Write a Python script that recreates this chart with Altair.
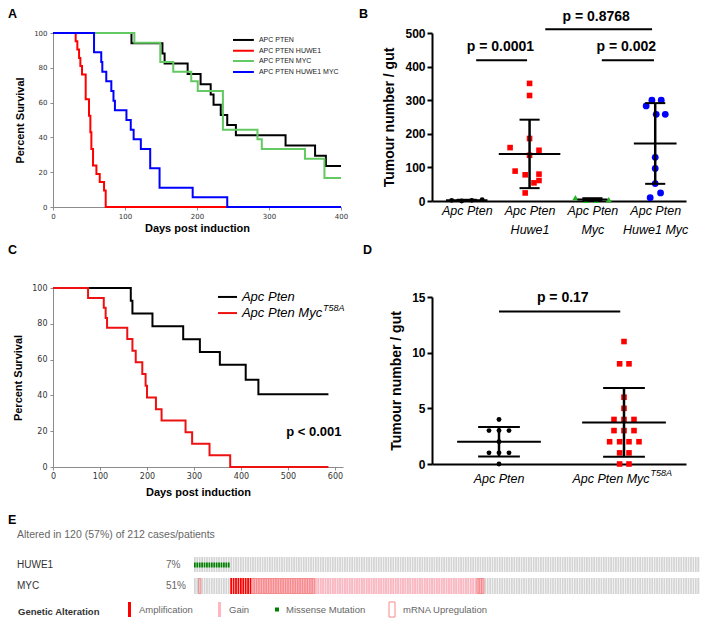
import altair as alt
import pandas as pd

SANS = "Liberation Sans"
SMALL = "DejaVu Sans"

# ====================== DATA ======================
# ---- Panel A: Kaplan-Meier survival (days, percent) ----
A_SERIES = ["APC PTEN", "APC PTEN HUWE1", "APC PTEN MYC", "APC PTEN HUWE1 MYC"]
A_COLORS = ["#000000", "#ff0000", "#63c963", "#0000ff"]
a_pten_day = [0, 109, 152, 155, 187, 205, 219, 223, 233, 242, 254, 323, 364, 379, 400]
a_pten_surv = [100, 94.1, 88.2, 82.4, 76.5, 70.6, 64.7, 58.8, 52.9, 47.1, 41.2, 35.3, 29.4, 23.5, 23.5]
a_huwe1_day = [0, 31.5, 33.8, 36.2, 38, 40.3, 45.4, 50, 51.9, 53.3, 55.6, 60.3, 64.9, 70.9, 73.2, 243]
a_huwe1_surv = [100, 95.2, 90.5, 85.7, 81.0, 76.2, 61.9, 52.4, 42.9, 33.3, 23.8, 19.0, 14.3, 9.5, 0, 0]
a_myc_day = [0, 113, 149, 167, 192, 201, 236, 284, 290, 350, 377, 400]
a_myc_surv = [100, 94.4, 83.3, 77.8, 72.2, 66.7, 44.4, 38.9, 33.3, 27.8, 16.7, 16.7]
a_hm_day = [0, 57, 67, 68.5, 74, 81, 84, 86, 102, 108, 112, 122, 135, 148, 194, 242, 400]
a_hm_surv = [100, 88.9, 83.3, 77.8, 72.2, 66.7, 61.1, 55.6, 50.0, 44.4, 38.9, 33.3, 22.2, 11.1, 5.6, 0, 0]

# ---- Panel B: tumour number per gut ----
B_LABELS = [["Apc Pten"], ["Apc Pten", "Huwe1"], ["Apc Pten", "Myc"], ["Apc Pten", "Huwe1 Myc"]]
B_COLORS = ["#000000", "#ff0000", "#22b822", "#0000ff"]
B_SHAPES = ["circle", "square", "triangle-up", "circle"]
b_values = [
    [2, 0, 2, 4],
    [350, 314, 186, 159, 151, 136, 89, 78, 80, 54, 61, 24],
    [10, 2, 2, 4],
    [300, 300, 283, 258, 258, 130, 97, 52, 24, 10],
]
b_jitter = [
    [-0.24, -0.08, 0.08, 0.245],
    [0, 0, 0, -0.31, 0.15, 0, -0.23, -0.07, 0.15, 0.07, 0.15, -0.07],
    [-0.27, -0.1, 0.06, 0.26],
    [-0.053, 0.096, -0.144, 0.016, 0.16, 0, 0, 0, 0.085, -0.08],
]
B_P_TEXT = ["p = 0.0001", "p = 0.002", "p = 0.8768"]

# ---- Panel C: Kaplan-Meier ----
C_SERIES = ["Apc Pten", "Apc Pten Myc"]
C_SUPER = "T58A"
C_COLORS = ["#000000", "#ee1111"]
c_pten_day = [0, 165.5, 169, 211.6, 277, 312.5, 355, 410, 437, 586]
c_pten_surv = [100, 92.9, 85.7, 78.6, 71.4, 64.3, 57.1, 48.8, 40.7, 40.7]
c_myc_day = [0, 74.6, 108, 112, 115, 158, 169, 176, 190, 197, 200, 219, 231, 282, 296, 333, 377, 586]
c_myc_surv = [100, 94.4, 88.9, 83.3, 77.8, 71.5, 65, 58.5, 52, 45.4, 38.8, 32.3, 26, 19.4, 13, 6.5, 0, 0]
C_P_TEXT = "p < 0.001"

# ---- Panel D: tumour number per gut ----
D_LABELS = ["Apc Pten", "Apc Pten Myc"]
D_COLORS = ["#000000", "#ff0000"]
D_SHAPES = ["circle", "square"]
d_values = [
    [4, 3, 3, 3, 2, 1, 1, 1, 0],
    [11, 9, 9, 6, 5, 4, 4, 4, 3, 3, 3, 2, 2, 2, 2, 1, 1, 0, 0],
]
d_jitter = [
    [0, -0.08, 0, 0.08, 0, -0.08, 0, 0.08, 0],
    [0, -0.035, 0.04, 0, 0, -0.08, 0, 0.08, -0.08, 0, 0.08, -0.115, -0.035, 0.04, 0.12,
     -0.035, 0.04, -0.035, 0.04],
]
D_P_TEXT = "p = 0.17"

# ---- Panel E: oncoprint ----
E_TITLE = "Altered in 120 (57%) of 212 cases/patients"
N_CASES = 212
E_GENES = ["HUWE1", "MYC"]
E_PCT = ["7%", "51%"]
HUWE1_MISSENSE = [(0, 14)]          # inclusive case-index ranges
MYC_AMP = [(15, 23)]
MYC_GAIN = [(24, 119)]
MYC_UPREG = [(2, 2), (24, 49), (117, 119)]
E_LEGEND_TITLE = "Genetic Alteration"
E_LEGEND = ["Amplification", "Gain", "Missense Mutation", "mRNA Upregulation"]


def expand(ranges):
    return [c for a, b in ranges for c in range(a, b + 1)]


# ====================== HELPERS ======================
def letter(ch, x, y):
    return alt.Chart(pd.DataFrame({"t": [ch]})).mark_text(
        font=SANS, fontSize=12.5, fontWeight="bold", align="left", baseline="middle", color="black"
    ).encode(text="t:N", x=alt.value(x), y=alt.value(y))


def vtext(txt, x, y, **kw):
    return alt.Chart(pd.DataFrame({"t": [txt]})).mark_text(baseline="middle", **kw).encode(
        text="t:N", x=alt.value(x), y=alt.value(y))


def vrect(x0, x1, y0, y1, **kw):
    return alt.Chart(pd.DataFrame({"t": [0]})).mark_rect(**kw).encode(
        x=alt.value(x0), x2=alt.value(x1), y=alt.value(y0), y2=alt.value(y1))


def km_axes(xvals, labsize, xtitlepad):
    ax_x = alt.Axis(values=xvals, title="Days post induction", grid=False,
                    labelFont=SMALL, labelFontSize=labsize, labelColor="#333333", labelPadding=2,
                    labelFlush=False, labelOverlap=False,
                    domainColor="#8c8c8c", tickColor="#8c8c8c", tickSize=3,
                    titleFont=SANS, titleFontSize=11, titleFontWeight="bold", titleColor="black",
                    titlePadding=xtitlepad)
    ax_y = alt.Axis(values=[0, 20, 40, 60, 80, 100], title="Percent Survival", grid=False,
                    labelFont=SMALL, labelFontSize=labsize, labelColor="#333333", labelPadding=3,
                    domainColor="#8c8c8c", tickColor="#8c8c8c", tickSize=3,
                    titleFont=SANS, titleFontSize=11, titleFontWeight="bold", titleColor="black",
                    titlePadding=8)
    return ax_x, ax_y


# ====================== PANEL A ======================
xA = alt.Scale(domain=[0, 400], nice=False)
yA = alt.Scale(domain=[0, 100], nice=False)
axAx, axAy = km_axes([0, 100, 200, 300, 400], 7, 3)


def XA(f):
    return alt.X(f, type="quantitative", scale=xA, axis=axAx)


def YA(f):
    return alt.Y(f, type="quantitative", scale=yA, axis=axAy)


def km_A(days, surv, color):
    df = pd.DataFrame({"day": days, "surv": surv})
    return alt.Chart(df).mark_line(interpolate="step-after", color=color, strokeWidth=2).encode(
        x=XA("day"), y=YA("surv"))


A_LEG_Y = [96, 89.8, 83.9, 77.6]
legA = pd.DataFrame({"name": A_SERIES, "color": A_COLORS, "y": A_LEG_Y,
                     "x0": [250] * 4, "x1": [279] * 4, "xt": [286] * 4})
chartA = alt.layer(
    km_A(a_pten_day, a_pten_surv, A_COLORS[0]),
    km_A(a_myc_day, a_myc_surv, A_COLORS[2]),
    km_A(a_huwe1_day, a_huwe1_surv, A_COLORS[1]),
    km_A(a_hm_day, a_hm_surv, A_COLORS[3]),
    alt.Chart(legA).mark_rule(strokeWidth=2).encode(
        x=XA("x0"), x2="x1:Q", y=YA("y"), color=alt.Color("color:N", scale=None)),
    alt.Chart(legA).mark_text(align="left", baseline="middle", font=SANS, fontSize=7, color="#222222").encode(
        x=XA("xt"), y=YA("y"), text="name:N"),
    letter("A", -45, -19),
).properties(width=288, height=174)

# ====================== PANEL B ======================
xB = alt.Scale(domain=[-0.553, 3.49], nice=False, zero=False)
yB = alt.Scale(domain=[0, 500], nice=False)
b_label_expr = "[" + ",".join("[" + ",".join("'%s'" % s for s in lab) + "]" for lab in B_LABELS) + "][datum.value]"
axBx = alt.Axis(values=[0, 1, 2, 3], labelExpr=b_label_expr, title=None, ticks=False, grid=False,
                domainColor="black", domainWidth=2, labelFont=SANS, labelFontStyle="italic",
                labelFontSize=12.5, labelColor="black", labelPadding=3, labelLineHeight=19,
                labelFlush=False, labelOverlap=False)
axBy = alt.Axis(values=[0, 100, 200, 300, 400, 500], title="Tumour number / gut", grid=False,
                domainColor="black", domainWidth=2, tickColor="black", tickWidth=2, tickSize=5,
                labelFont=SANS, labelFontSize=12, labelFontWeight="bold", labelColor="black",
                labelPadding=2, titleFont=SANS, titleFontSize=14, titleFontWeight="bold",
                titleColor="black", titlePadding=8)


def XB(f):
    return alt.X(f, type="quantitative", scale=xB, axis=axBx)


def YB(f):
    return alt.Y(f, type="quantitative", scale=yB, axis=axBy)


def scatter_df(values, jitter):
    rows = []
    for g, (vals, jits) in enumerate(zip(values, jitter)):
        for v, j in zip(vals, jits):
            rows.append({"grp": g, "gname": "g%d" % g, "val": v, "jit": j})
    return pd.DataFrame(rows)


b_df = scatter_df(b_values, b_jitter)
B_GN = ["g0", "g1", "g2", "g3"]
b_pts = alt.Chart(b_df).transform_calculate(px="datum.grp + datum.jit").mark_point(
    filled=True, opacity=1, strokeWidth=0).encode(
    x=XB("px"), y=YB("val"),
    color=alt.Color("gname:N", scale=alt.Scale(domain=B_GN, range=B_COLORS), legend=None),
    shape=alt.Shape("gname:N", scale=alt.Scale(domain=B_GN, range=B_SHAPES), legend=None),
    size=alt.Size("gname:N", scale=alt.Scale(domain=B_GN, range=[24, 46, 30, 58]), legend=None),
)


def summary_layers(df, X, Y, halfw, caphw):
    hw_expr = "[" + ",".join(str(h) for h in halfw) + "][datum.grp]"
    s = alt.Chart(df).transform_aggregate(
        m="mean(val)", s="stdev(val)", groupby=["grp"]
    ).transform_calculate(
        lo="datum.m - datum.s", hi="datum.m + datum.s",
        ml="datum.grp - " + hw_expr, mr="datum.grp + " + hw_expr,
        cl="datum.grp - %f" % caphw, cr="datum.grp + %f" % caphw,
    )
    return [
        s.mark_rule(color="black", strokeWidth=2.5).encode(x=X("grp"), y=Y("lo"), y2="hi:Q"),
        s.mark_rule(color="black", strokeWidth=2).encode(x=X("ml"), x2="mr:Q", y=Y("m")),
        s.mark_rule(color="black", strokeWidth=2).encode(x=X("cl"), x2="cr:Q", y=Y("hi")),
        s.mark_rule(color="black", strokeWidth=2).encode(x=X("cl"), x2="cr:Q", y=Y("lo")),
    ]


B_LINE_POS = [(0.15, 0.96, 419), (2.15, 2.98, 419), (1.25, 2.95, 511)]
B_TEXT_POS = [(0.535, 458), (2.54, 458), (2.06, 548)]
b_pl = pd.DataFrame({"x0": [p[0] for p in B_LINE_POS], "x1": [p[1] for p in B_LINE_POS],
                     "y": [p[2] for p in B_LINE_POS]})
b_pt = pd.DataFrame({"t": B_P_TEXT, "x": [p[0] for p in B_TEXT_POS], "y": [p[1] for p in B_TEXT_POS]})

chartB = alt.layer(
    b_pts,
    *summary_layers(b_df, XB, YB, [0.33, 0.49, 0.24, 0.34], 0.16),
    alt.Chart(b_pl).mark_rule(color="black", strokeWidth=2).encode(x=XB("x0"), x2="x1:Q", y=YB("y")),
    alt.Chart(b_pt).mark_text(font=SANS, fontSize=14, fontWeight="bold", color="black", baseline="middle").encode(
        x=XB("x"), y=YB("y"), text="t:N"),
    letter("B", -73, -19),
).properties(width=254, height=168)

# ====================== PANEL C ======================
xC = alt.Scale(domain=[0, 617], nice=False)
yC = alt.Scale(domain=[0, 100], nice=False)
axCx, axCy = km_axes([0, 100, 200, 300, 400, 500, 600], 8, 6)


def XC(f):
    return alt.X(f, type="quantitative", scale=xC, axis=axCx)


def YC(f):
    return alt.Y(f, type="quantitative", scale=yC, axis=axCy)


def km_C(days, surv, color):
    df = pd.DataFrame({"day": days, "surv": surv})
    return alt.Chart(df).mark_line(interpolate="step-after", color=color, strokeWidth=2).encode(
        x=XC("day"), y=YC("surv"))


legC = pd.DataFrame({"name": C_SERIES, "color": C_COLORS, "y": [95, 86],
                     "x0": [351, 351], "x1": [391.5, 391.5], "xt": [402, 402]})
chartC = alt.layer(
    km_C(c_pten_day, c_pten_surv, C_COLORS[0]),
    km_C(c_myc_day, c_myc_surv, C_COLORS[1]),
    alt.Chart(legC).mark_rule(strokeWidth=2).encode(
        x=XC("x0"), x2="x1:Q", y=YC("y"), color=alt.Color("color:N", scale=None)),
    alt.Chart(legC).mark_text(align="left", baseline="middle", font=SANS, fontSize=13,
                              fontStyle="italic", color="black").encode(x=XC("xt"), y=YC("y"), text="name:N"),
    alt.Chart(pd.DataFrame({"t": [C_SUPER], "x": [574.5], "y": [88.8]})).mark_text(
        align="left", baseline="middle", font=SANS, fontSize=9, fontStyle="italic", color="black").encode(
        x=XC("x"), y=YC("y"), text="t:N"),
    alt.Chart(pd.DataFrame({"t": [C_P_TEXT], "x": [555], "y": [19.6]})).mark_text(
        align="center", baseline="middle", font=SANS, fontSize=13, fontWeight="bold", color="black").encode(
        x=XC("x"), y=YC("y"), text="t:N"),
    letter("C", -45, -38),
).properties(width=290, height=179)

# ====================== PANEL D ======================
xD = alt.Scale(domain=[-0.536, 1.496], nice=False, zero=False)
yD = alt.Scale(domain=[0, 15], nice=False)
axDx = alt.Axis(values=[0, 1], labels=False, ticks=False, title=None, grid=False,
                domainColor="black", domainWidth=2)
axDy = alt.Axis(values=[0, 5, 10, 15], title="Tumour number / gut", grid=False,
                domainColor="black", domainWidth=2, tickColor="black", tickWidth=2, tickSize=5,
                labelFont=SANS, labelFontSize=12, labelFontWeight="bold", labelColor="black",
                labelPadding=2, titleFont=SANS, titleFontSize=14, titleFontWeight="bold",
                titleColor="black", titlePadding=8)


def XD(f):
    return alt.X(f, type="quantitative", scale=xD, axis=axDx)


def YD(f):
    return alt.Y(f, type="quantitative", scale=yD, axis=axDy)


d_df = scatter_df(d_values, d_jitter)
D_GN = ["g0", "g1"]
d_pts = alt.Chart(d_df).transform_calculate(px="datum.grp + datum.jit").mark_point(
    filled=True, opacity=1, strokeWidth=0).encode(
    x=XD("px"), y=YD("val"),
    color=alt.Color("gname:N", scale=alt.Scale(domain=D_GN, range=D_COLORS), legend=None),
    shape=alt.Shape("gname:N", scale=alt.Scale(domain=D_GN, range=D_SHAPES), legend=None),
    size=alt.Size("gname:N", scale=alt.Scale(domain=D_GN, range=[40, 46]), legend=None),
)
chartD = alt.layer(
    d_pts,
    *summary_layers(d_df, XD, YD, [0.335, 0.335], 0.167),
    alt.Chart(pd.DataFrame({"x0": [0], "x1": [0.97], "y": [13.7]})).mark_rule(
        color="black", strokeWidth=2).encode(x=XD("x0"), x2="x1:Q", y=YD("y")),
    alt.Chart(pd.DataFrame({"t": [D_P_TEXT], "x": [0.51], "y": [14.95]})).mark_text(
        font=SANS, fontSize=14, fontWeight="bold", color="black", baseline="middle").encode(
        x=XD("x"), y=YD("y"), text="t:N"),
    alt.Chart(pd.DataFrame({"t": [D_LABELS[0]], "x": [0]})).mark_text(
        font=SANS, fontSize=12.5, fontStyle="italic", color="black", baseline="middle").encode(
        x=XD("x"), y=alt.value(182), text="t:N"),
    alt.Chart(pd.DataFrame({"t": [D_LABELS[1]], "x": [1]})).mark_text(
        font=SANS, fontSize=12.5, fontStyle="italic", color="black", baseline="middle", dx=-13).encode(
        x=XD("x"), y=alt.value(182), text="t:N"),
    alt.Chart(pd.DataFrame({"t": [C_SUPER], "x": [1]})).mark_text(
        font=SANS, fontSize=9, fontStyle="italic", color="black", baseline="middle", align="left", dx=26.5).encode(
        x=XD("x"), y=alt.value(176), text="t:N"),
    letter("D", -69, -47),
).properties(width=254, height=167)

# ====================== PANEL E ======================
# E's plot origin is aligned with panel A's plot origin (45 px right of the page content edge)
OX = -45
WE, HE = 647, 107
xE = alt.Scale(domain=[-58.26, 209.1], nice=False, zero=False)
ROW_Y = {"HUWE1": (46, 61), "MYC": (67, 83)}


def case_rects(cases, y0, y1, lo=0.0, hi=0.72, **kw):
    df = pd.DataFrame({"case": cases})
    return alt.Chart(df).transform_calculate(
        c1="datum.case + %f" % lo, c2="datum.case + %f" % hi
    ).mark_rect(clip=True, **kw).encode(
        x=alt.X("c1:Q", scale=xE, axis=None), x2="c2:Q", y=alt.value(y0), y2=alt.value(y1))


all_cases = list(range(N_CASES))
hy0, hy1 = ROW_Y["HUWE1"]
my0, my1 = ROW_Y["MYC"]
GREY = "#d4d4d4"
chartE = alt.layer(
    case_rects(all_cases, hy0, hy1, color=GREY),
    case_rects(expand(HUWE1_MISSENSE), hy0 + 5.5, hy1 - 4.5, color="#008000"),
    case_rects(all_cases, my0, my1, color=GREY),
    case_rects(expand(MYC_GAIN), my0, my1, color="#ffb6c1"),
    case_rects(expand(MYC_AMP), my0, my1, color="#ff0000"),
    case_rects(expand(MYC_UPREG), my0 + 0.5, my1 - 0.5, lo=-0.1, hi=0.82,
               fillOpacity=0, stroke="#f58a8a", strokeWidth=1),
    letter("E", OX, 9),
    vtext(E_TITLE, OX + 9, 24, align="left", font=SANS, fontSize=10.5, color="#666666"),
    vtext(E_GENES[0], OX + 9, (hy0 + hy1) / 2, align="left", font=SANS, fontSize=10, color="#333333"),
    vtext(E_GENES[1], OX + 9, (my0 + my1) / 2, align="left", font=SANS, fontSize=10, color="#333333"),
    vtext(E_PCT[0], OX + 158, (hy0 + hy1) / 2, align="left", font=SANS, fontSize=10, color="#666666"),
    vtext(E_PCT[1], OX + 158, (my0 + my1) / 2, align="left", font=SANS, fontSize=10, color="#666666"),
    vtext(E_LEGEND_TITLE, OX + 10, 101, align="left", font=SANS, fontSize=9.5, fontWeight="bold", color="#333333"),
    vrect(OX + 120, OX + 123, 91, 106, color="#ff0000"),
    vrect(OX + 210, OX + 213, 91, 106, color="#ffb6c1"),
    vrect(OX + 267, OX + 271, 96.5, 100.5, color="#008000"),
    vrect(OX + 381, OX + 387, 91, 106, fillOpacity=0, stroke="#f58a8a", strokeWidth=1),
    vtext(E_LEGEND[0], OX + 131, 99, align="left", font=SANS, fontSize=9.5, color="#666666"),
    vtext(E_LEGEND[1], OX + 221, 99, align="left", font=SANS, fontSize=9.5, color="#666666"),
    vtext(E_LEGEND[2], OX + 278, 99, align="left", font=SANS, fontSize=9.5, color="#666666"),
    vtext(E_LEGEND[3], OX + 395, 99, align="left", font=SANS, fontSize=9.5, color="#666666"),
).properties(width=WE, height=HE)

# ====================== LAYOUT ======================
left = alt.vconcat(chartA, chartC, spacing=11)
right = alt.vconcat(chartB, chartD, spacing=8)
top = alt.hconcat(left, right, spacing=11)
chart = alt.vconcat(top, chartE, spacing=14).properties(padding=0).configure_view(stroke=None)

chart.save("out.html", embed_options={"renderer": "svg", "actions": False})
